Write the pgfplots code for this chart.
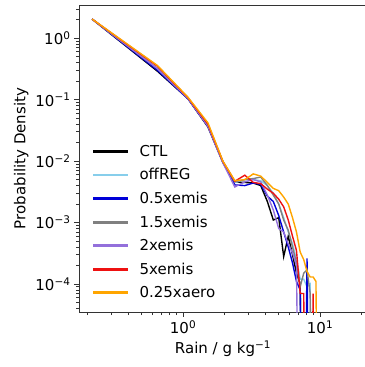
\documentclass[border=0pt]{standalone}
\usepackage{fontspec}
\setmainfont{DejaVu Sans}
\usepackage{pgfplots}
\usepackage{pgfplotstable}
\pgfplotsset{compat=1.18}

\definecolor{cskyblue}{HTML}{87CEEB}
\definecolor{cblue}{HTML}{0000D8}
\definecolor{cgrey}{HTML}{808080}
\definecolor{cpurple}{HTML}{9370DB}
\definecolor{cred}{HTML}{EE1111}
\definecolor{corange}{HTML}{FFA500}

% Rain-rate PDFs; empty bins are stored as 1e-9 (below the plotted range)
\pgfplotstableread{
x      ctl      offreg   ea       eb       ec       ed       aero
0.217  2.05     2.05     2.05     2.05     2.05     2.05     2.05
0.651  0.29     0.32     0.30     0.32     0.32     0.35     0.36
1.085  0.104    0.106    0.104    0.106    0.105    0.108    0.110
1.519  0.036    0.038    0.037    0.038    0.037    0.040    0.042
1.953  0.0095   0.0098   0.0097   0.0098   0.0094   0.0099   0.0100
2.387  0.0046   0.0045   0.0041   0.0046   0.0038   0.0047   0.0048
2.821  0.0045   0.0050   0.0040   0.0050   0.0046   0.0059   0.0050
3.255  0.0044   0.0050   0.0044   0.0052   0.0050   0.0045   0.0062
3.689  0.0040   0.0048   0.0042   0.0055   0.0046   0.0043   0.0057
4.123  0.0022   0.0040   0.0027   0.0040   0.0028   0.0035   0.0045
4.557  0.0011   0.0030   0.0022   0.0028   0.0016   0.0030   0.0036
4.991  0.0012   0.0020   0.0013   0.0020   0.0008   0.0024   0.0033
5.425  0.00028  0.0012   0.0007   0.0011   0.0007   0.0018   0.0026
5.859  0.0006   0.0007   0.0004   0.00075  0.00045  0.0011   0.0020
6.293  0.0003   0.00045  0.00022  0.0004   0.00032  0.0006   0.0012
6.727  0.00015  0.00025  0.00011  0.00022  0.0002   0.00035  0.0007
7.161  0.0001   0.00012  0.00008  0.00009  1e-9     0.00007  0.00033
7.595  1e-9     0.00012  1e-9     0.00015  1e-9     0.00007  0.00025
8.029  1e-9     0.00009  0.00026  0.00017  1e-9     1e-9     0.00016
8.463  1e-9     0.0001   1e-9     0.00007  1e-9     1e-9     0.00013
8.897  1e-9     1e-9     1e-9     1e-9     1e-9     0.00007  0.00013
9.331  1e-9     1e-9     1e-9     1e-9     1e-9     1e-9     0.00011
9.765  1e-9     1e-9     1e-9     1e-9     1e-9     1e-9     1e-9
}\pdfdata

\begin{document}
\begin{tikzpicture}[font=\fontsize{15bp}{18bp}\selectfont]
\begin{axis}[
  at={(0,0)}, anchor=south west,
  scale only axis, width=288bp, height=307bp,
  xmode=log, ymode=log,
  xmin=0.174, xmax=22.0, ymin=3.5e-5, ymax=3.48,
  axis line style={black!80, line width=0.8bp},
  tick align=outside, tick pos=left,
  major tick length=5bp, minor tick length=3bp,
  every tick/.style={black!80, line width=0.8bp},
  xtick={1,10},
  xticklabels={10\textsuperscript{0},10\textsuperscript{1}},
  minor xtick={0.2,0.3,0.4,0.5,0.6,0.7,0.8,0.9,2,3,4,5,6,7,8,9,20},
  ytick={1e-4,1e-3,1e-2,1e-1,1},
  yticklabels={10\textsuperscript{\char"2212 4},10\textsuperscript{\char"2212 3},10\textsuperscript{\char"2212 2},10\textsuperscript{\char"2212 1},10\textsuperscript{0}},
  minor ytick={4e-5,5e-5,6e-5,7e-5,8e-5,9e-5,2e-4,3e-4,4e-4,5e-4,6e-4,7e-4,8e-4,9e-4,2e-3,3e-3,4e-3,5e-3,6e-3,7e-3,8e-3,9e-3,2e-2,3e-2,4e-2,5e-2,6e-2,7e-2,8e-2,9e-2,0.2,0.3,0.4,0.5,0.6,0.7,0.8,0.9,2,3},
  xlabel={Rain / g kg\textsuperscript{\char"2212 1}},
  ylabel={Probability Density},
  every axis plot/.append style={line width=1.4bp},
  legend cell align=left,
  % legend samples drawn as thin filled bars in the series colour
  legend image code/.code={\fill[#1] (0bp,-0.7bp) rectangle (33bp,0.7bp);},
  legend style={draw=none, fill=none, at={(0.045,0.035)}, anchor=south west,
    row sep=8.7bp, column sep=11bp, inner sep=1bp,
    nodes={inner sep=1bp}},
]
\addplot[black]       table[x=x, y=ctl]    {\pdfdata};
\addplot[cskyblue]    table[x=x, y=offreg] {\pdfdata};
\addplot[cblue]       table[x=x, y=ea]     {\pdfdata};
\addplot[cgrey]       table[x=x, y=eb]     {\pdfdata};
\addplot[cpurple]     table[x=x, y=ec]     {\pdfdata};
\addplot[cred]        table[x=x, y=ed]     {\pdfdata};
\addplot[corange]     table[x=x, y=aero]   {\pdfdata};
\legend{CTL, offREG, 0.5xemis, 1.5xemis, 2xemis, 5xemis, 0.25xaero}
\end{axis}
\pgfresetboundingbox
\path[use as bounding box] (-79bp,-55bp) rectangle (286bp,312bp);
\end{tikzpicture}
\end{document}
